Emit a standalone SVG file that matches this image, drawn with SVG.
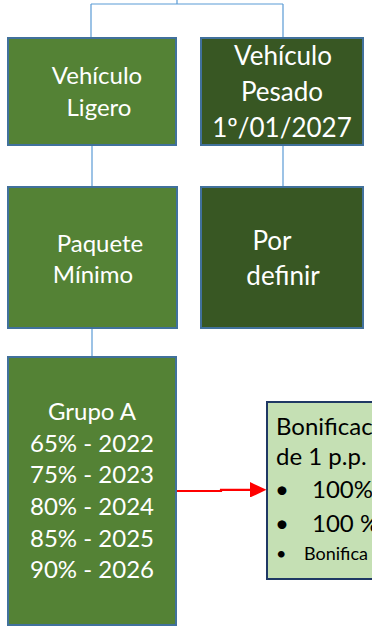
<svg xmlns="http://www.w3.org/2000/svg" width="372" height="628" viewBox="0 0 372 628">
<style>
.box1{fill:#548235;stroke:#41719C;stroke-width:2}
.box2{fill:#385723;stroke:#41719C;stroke-width:2}
.note{fill:#C5E0B4;stroke:#1F3864;stroke-width:2}
.wt{fill:#FFFFFF;font-family:Lato,"Open Sans",sans-serif;text-anchor:middle}
.bt{fill:#000000;font-family:Lato,"Open Sans",sans-serif}
.conn{fill:none;stroke:#5B9BD5;stroke-width:1.2}
.arrow{fill:none;stroke:#FF0000;stroke-width:2.2}
</style>
<defs>
<marker id="ah" markerWidth="8" markerHeight="7" refX="0" refY="3.5" orient="auto" markerUnits="strokeWidth">
<path d="M0,0 L7.5,3.5 L0,7 Z" fill="#FF0000"/>
</marker>
</defs>
<g id="connectors">
<path class="conn" d="M177,0 V4 M91,4 H283 M91,4 V38 M283,4 V38"/>
<path class="conn" d="M92,145 V187"/>
<path class="conn" d="M283,145 V187"/>
<path class="conn" d="M92,328 V357"/>
<path class="arrow" d="M176,491 H221 V489.8 H250" marker-end="url(#ah)"/>
</g>
<g id="ligero">
<rect class="box1" x="8" y="38" width="168" height="107"/>
<text class="wt" font-size="24"><tspan x="97" y="84">Vehículo</tspan><tspan x="99" y="116">Ligero</tspan></text>
</g>
<g id="pesado">
<rect class="box2" x="201" y="38" width="162" height="107"/>
<text class="wt" font-size="26"><tspan x="283" y="65">Vehículo</tspan><tspan x="282" y="101">Pesado</tspan><tspan x="282" y="137">1º/01/2027</tspan></text>
</g>
<g id="paquete">
<rect class="box1" x="8" y="187" width="169" height="141"/>
<text class="wt" font-size="24"><tspan x="100" y="252">Paquete</tspan><tspan x="93" y="283">Mínimo</tspan></text>
</g>
<g id="definir">
<rect class="box2" x="201" y="187" width="162" height="141"/>
<text class="wt" font-size="26"><tspan x="272" y="250">Por</tspan><tspan x="283" y="285">definir</tspan></text>
</g>
<g id="grupoA">
<rect class="box1" x="8" y="357" width="168" height="268"/>
<text class="wt" font-size="24"><tspan x="92" y="420">Grupo A</tspan><tspan x="92" y="452">65% - 2022</tspan><tspan x="92" y="483">75% - 2023</tspan><tspan x="92" y="515">80% - 2024</tspan><tspan x="92" y="547">85% - 2025</tspan><tspan x="92" y="578">90% - 2026</tspan></text>
</g>
<g id="bonificacion">
<rect class="note" x="267" y="402" width="115" height="177"/>
<text class="bt" font-size="24"><tspan x="276" y="435">Bonificac</tspan><tspan x="276" y="465">de 1 p.p.</tspan></text>
<text class="bt" font-size="24"><tspan x="275" y="498">•</tspan><tspan x="312" y="498">100%</tspan></text>
<text class="bt" font-size="24"><tspan x="275" y="532">•</tspan><tspan x="312" y="532">100 %</tspan></text>
<text class="bt" font-size="18"><tspan x="276" y="560">•</tspan><tspan x="304" y="560">Bonifica</tspan></text>
</g>
</svg>
